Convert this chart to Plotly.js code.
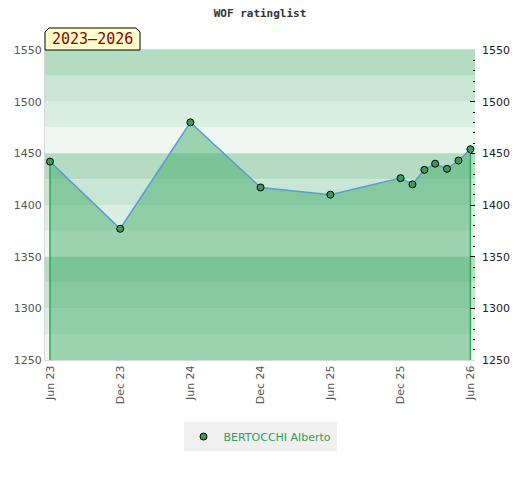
<!DOCTYPE html>
<html>
<head>
<meta charset="utf-8">
<script src="https://cdn.plot.ly/plotly-3.0.1.min.js"></script>
<style>
  html, body { margin: 0; padding: 0; background: #ffffff; }
  #chart { width: 520px; height: 480px; }
</style>
</head>
<body>
<div id="chart"></div>
<script>
// ---- data ----
const dates = ['2023-06-01','2023-12-01','2024-06-01','2024-12-01','2025-06-01',
               '2025-12-01','2026-01-01','2026-02-01','2026-03-01','2026-04-01','2026-05-01','2026-06-01'];
const ratings = [1442, 1377, 1480, 1417, 1410, 1426, 1420, 1434, 1440, 1435, 1443, 1454];
const playerName = 'BERTOCCHI Alberto';
const tickDates = ['2023-06-01','2023-12-01','2024-06-01','2024-12-01','2025-06-01','2025-12-01','2026-06-01'];
const tickLabels = ['Jun 23','Dec 23','Jun 24','Dec 24','Jun 25','Dec 25','Jun 26'];
const chartTitle = 'WOF ratinglist';
const periodLabel = '2023\u20132026';

// ---- styling ----
const Y_MIN = 1250, Y_MAX = 1550;
const bandColors = ['#b3dcc3', '#c8e6d3', '#dbeee2', '#eef7f1']; // from top of each 100-block down
const shapes = [];
for (let top = Y_MAX; top > Y_MIN; top -= 25) {
  const idx = Math.round(((Y_MAX - top) / 25)) % 4;
  shapes.push({
    type: 'rect', xref: 'paper', yref: 'y', layer: 'below',
    x0: 0, x1: 1, y0: top - 25, y1: top,
    fillcolor: bandColors[idx], line: { width: 0 }
  });
}
// period label box with chamfered top corners (paper coords)
const bx1 = 95 / 430, by1 = 1 + 22 / 310, cx = 4 / 430, cy = 4 / 310;
shapes.push({
  type: 'path', xref: 'paper', yref: 'paper', layer: 'above',
  path: `M 0 1 L 0 ${by1 - cy} L ${cx} ${by1} L ${bx1 - cx} ${by1} L ${bx1} ${by1 - cy} L ${bx1} 1 Z`,
  fillcolor: '#ffffcc', line: { color: '#000000', width: 1 }
});

const fillTrace = {
  x: dates, y: ratings, type: 'scatter', mode: 'lines',
  fill: 'tozeroy', fillcolor: 'rgba(54,167,97,0.45)',
  line: { width: 0 }, hoverinfo: 'skip', showlegend: false
};
const edgeLeft = {
  x: [dates[0], dates[0]], y: [Y_MIN, ratings[0]], type: 'scatter', mode: 'lines',
  line: { color: '#33a852', width: 1.5 }, showlegend: false, hoverinfo: 'skip'
};
const last = dates.length - 1;
const edgeRight = {
  x: [dates[last], dates[last]], y: [Y_MIN, ratings[last]], type: 'scatter', mode: 'lines',
  line: { color: '#33a852', width: 1.5 }, showlegend: false, hoverinfo: 'skip', yaxis: 'y2'
};
const lineTrace = {
  x: dates, y: ratings, type: 'scatter', mode: 'lines',
  line: { color: '#5b9bd5', width: 1.5 }, showlegend: false
};
const markerTrace = {
  x: dates, y: ratings, type: 'scatter', mode: 'markers', name: playerName,
  marker: { color: '#3a9a5b', size: 7, line: { color: '#000000', width: 1 } }
};

const layout = {
  width: 520, height: 480,
  margin: { l: 45, r: 45, t: 50, b: 120 },
  paper_bgcolor: '#ffffff', plot_bgcolor: '#ffffff',
  font: { family: 'DejaVu Sans', size: 11, color: '#555555' },
  title: {
    text: chartTitle, x: 0.5, xanchor: 'center', y: 0.973, yanchor: 'middle',
    font: { family: 'DejaVu Sans Mono', size: 11, color: '#333333', weight: 'bold' }
  },
  xaxis: {
    type: 'date', range: ['2023-05-19', '2026-06-13'],
    tickvals: tickDates, ticktext: tickLabels, tickangle: -90,
    showgrid: false, zeroline: false, ticks: '',
    showline: true, linecolor: '#d9d9d9', linewidth: 1, mirror: true,
    tickfont: { family: 'DejaVu Sans', size: 11, color: '#555555' }
  },
  yaxis: {
    range: [Y_MIN, Y_MAX], dtick: 50, tick0: 1250, showgrid: false, zeroline: false,
    showline: true, linecolor: '#d9d9d9', linewidth: 1, ticks: '',
    tickfont: { family: 'DejaVu Sans', size: 11, color: '#555555' }
  },
  yaxis2: {
    overlaying: 'y', side: 'right', range: [Y_MIN, Y_MAX], dtick: 50, tick0: 1250,
    showgrid: false, zeroline: false, showline: false,
    ticks: 'inside', ticklen: 5, tickcolor: '#000000', tickwidth: 1,
    ticklabelstandoff: 6,
    minor: { dtick: 10, ticks: 'inside', ticklen: 2.5, tickcolor: '#000000', tickwidth: 1, showgrid: false },
    tickfont: { family: 'DejaVu Sans', size: 11, color: '#222222' }
  },
  shapes: shapes,
  annotations: [{
    xref: 'paper', yref: 'paper', x: (47.5) / 430, y: 1 + 11 / 310,
    xanchor: 'center', yanchor: 'middle', showarrow: false,
    text: periodLabel,
    font: { family: 'DejaVu Sans Mono', size: 15, color: '#8b0000' }
  }],
  showlegend: true,
  legend: {
    orientation: 'h', x: 0.5, xanchor: 'center', y: -0.247, yanchor: 'middle',
    bgcolor: '#f0f0f0', borderwidth: 0, itemwidth: 30,
    font: { family: 'DejaVu Sans', size: 11, color: '#2ca05a' }
  }
};

Plotly.newPlot('chart', [fillTrace, edgeLeft, edgeRight, lineTrace, markerTrace], layout,
  { displayModeBar: false, staticPlot: true });
</script>
</body>
</html>
